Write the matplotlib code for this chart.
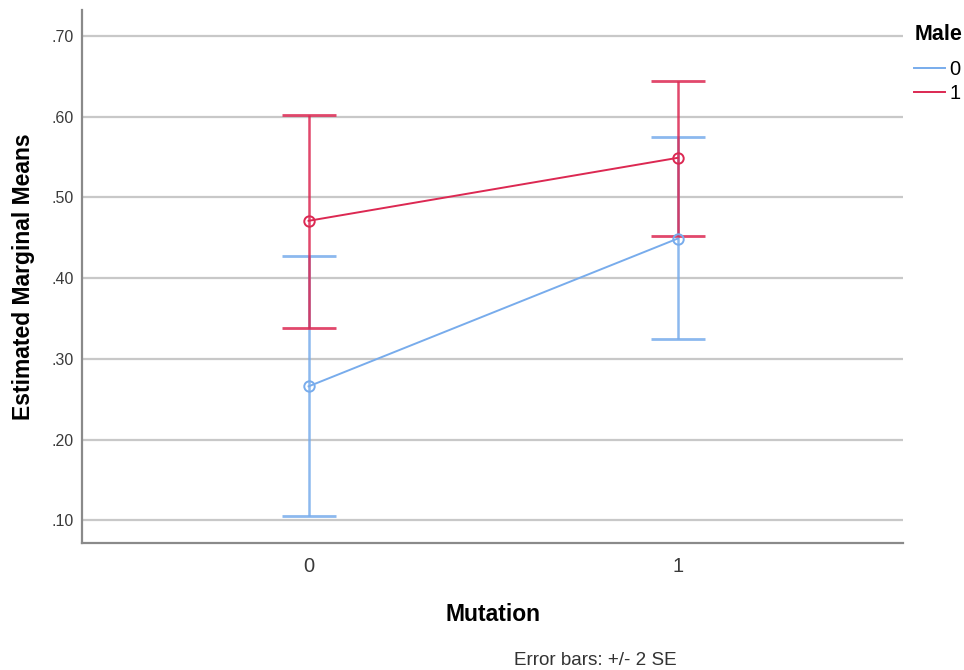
import numpy as np
import matplotlib.pyplot as plt
from matplotlib.ticker import FuncFormatter

# -------------------------
# DATOS
# -------------------------
mutation = [0, 1]
grupos = ["0", "1"]
medias_0 = [0.266, 0.449]
sup_0 = [0.428, 0.575]
inf_0 = [0.105, 0.325]
medias_1 = [0.471, 0.549]
sup_1 = [0.602, 0.644]
inf_1 = [0.338, 0.452]
y_ticks = [0.10, 0.20, 0.30, 0.40, 0.50, 0.60, 0.70]

colores = ["#78acec", "#dc2852"]

plt.rcParams['font.family'] = ['Liberation Sans', 'DejaVu Sans']

fig = plt.figure(figsize=(9.64, 6.70), dpi=100)
ax = fig.add_axes([0.085, 0.19, 0.852, 0.795])

series = [(medias_0, sup_0, inf_0), (medias_1, sup_1, inf_1)]
handles = []
for i, (m, s, f) in enumerate(series):
    m = np.array(m)
    yerr = [m - np.array(f), np.array(s) - m]
    ax.errorbar(mutation, m, yerr=yerr, fmt='none', ecolor=colores[i],
                elinewidth=1.8, capsize=19.5, capthick=2.0, alpha=0.85, zorder=3)
    h, = ax.plot(mutation, m, '-', color=colores[i], linewidth=1.4, zorder=4)
    ax.plot(mutation, m, 'o', mfc='none', mec=colores[i], mew=1.4,
            markersize=7.5, zorder=5)
    handles.append(h)

ax.set_xlim(-0.614, 1.611)
ax.set_ylim(0.0724, 0.732)
ax.set_xticks(mutation)
ax.set_xticklabels(["0", "1"], fontsize=14.5, color="#3a3a3a")
ax.set_yticks(y_ticks)
ax.yaxis.set_major_formatter(FuncFormatter(lambda v, p: f"{v:.2f}".lstrip("0")))
ax.tick_params(axis='y', labelsize=11.5, colors="#3a3a3a", length=0, pad=6)
ax.tick_params(axis='x', length=0, pad=10)

ax.grid(axis='y', color="#c8c8c8", linewidth=1.6, zorder=0)
ax.set_axisbelow(True)
for lado in ["top", "right"]:
    ax.spines[lado].set_visible(False)
for lado in ["left", "bottom"]:
    ax.spines[lado].set_color("#8a8a8a")
    ax.spines[lado].set_linewidth(1.6)

ax.set_ylabel("Estimated Marginal Means", fontsize=16.5, fontweight='bold')
ax.yaxis.set_label_coords(-0.057, 0.5)
ax.set_xlabel("Mutation", fontsize=16.5, fontweight='bold')
ax.xaxis.set_label_coords(0.501, -0.114)

leg = ax.legend(handles, grupos, title="Male", loc='upper left',
                bbox_to_anchor=(0.9965, 1.0), frameon=False, fontsize=14.5,
                handlelength=1.5, handletextpad=0.25, labelspacing=0.25,
                borderaxespad=0.4, borderpad=0.3)
leg.get_title().set_fontweight('bold')
leg.get_title().set_fontsize(15.5)
leg._legend_box.align = "left"
leg._legend_box.sep = 11  # espacio extra entre título y entradas

fig.text(0.618, 0.0075, "Error bars: +/- 2 SE", ha='center', va='baseline',
         fontsize=13.6, color="#333333")

plt.savefig("out.png", dpi=100)
